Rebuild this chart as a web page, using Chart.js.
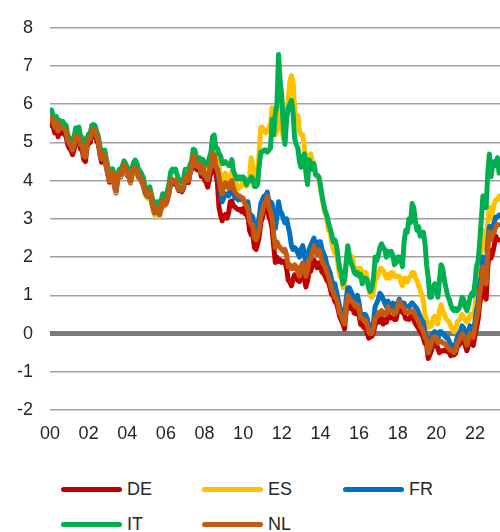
<!DOCTYPE html>
<html>
<head>
<meta charset="utf-8">
<script src="https://cdn.jsdelivr.net/npm/chart.js@4/dist/chart.umd.min.js"></script>
<style>
  html, body { margin: 0; padding: 0; background: #fff; }
  #wrap { position: relative; width: 500px; height: 532px; font-family: 'Liberation Sans', Arial, sans-serif; }
  #c { position: absolute; left: 0; top: 0; }
  .lg { position: absolute; height: 22px; display: flex; align-items: center; font-size: 18px; color: #262626; }
  .sw { width: 61px; height: 5px; border-radius: 3px; margin-right: 5px; }
</style>
</head>
<body>
<div id="wrap">
  <canvas id="c" width="500" height="460"></canvas>
  <div class="lg" style="left:61px; top:478px;"><span class="sw" style="background:#C00000"></span>DE</div>
  <div class="lg" style="left:202px; top:478px;"><span class="sw" style="background:#FFC000"></span>ES</div>
  <div class="lg" style="left:343px; top:478px;"><span class="sw" style="background:#0070C0"></span>FR</div>
  <div class="lg" style="left:61px; top:513px;"><span class="sw" style="background:#00B050"></span>IT</div>
  <div class="lg" style="left:202px; top:513px;"><span class="sw" style="background:#C55A11"></span>NL</div>
</div>
<script>
// Monthly 10-year government bond yields (%), Jan 2000 onward
const startYear = 2000;
const yTicks = [-2, -1, 0, 1, 2, 3, 4, 5, 6, 7, 8];
const xTickYears = [2000, 2002, 2004, 2006, 2008, 2010, 2012, 2014, 2016, 2018, 2020, 2022];

const DE = [
 5.45,5.50,5.40,5.25,5.40,5.15,5.28,5.24,5.28,5.22,5.15,4.95,
 4.85,4.80,4.68,4.82,5.06,5.00,5.02,4.82,4.80,4.55,4.50,4.87,
 5.00,5.00,5.22,5.25,5.22,5.05,4.95,4.70,4.48,4.57,4.58,4.35,
 4.15,3.96,4.09,4.15,3.85,3.68,4.02,4.14,4.10,4.20,4.35,4.27,
 4.14,4.10,3.94,4.15,4.26,4.28,4.22,4.08,4.04,3.96,3.86,3.67,
 3.58,3.55,3.68,3.46,3.28,3.12,3.22,3.22,3.08,3.25,3.44,3.34,
 3.38,3.50,3.68,3.94,3.98,3.92,3.96,3.84,3.74,3.78,3.71,3.80,
 4.05,4.05,3.95,4.18,4.31,4.58,4.52,4.29,4.28,4.34,4.11,4.28,
 4.02,3.96,3.83,4.03,4.21,4.52,4.50,4.18,3.95,3.30,3.10,2.95,
 3.05,3.12,3.02,3.16,3.45,3.47,3.33,3.31,3.27,3.24,3.25,3.19,
 3.27,3.14,3.11,3.05,2.70,2.58,2.62,2.25,2.20,2.35,2.54,2.91,
 3.04,3.22,3.20,3.40,3.06,2.95,2.74,2.28,1.86,2.00,1.89,1.93,
 1.86,1.89,1.86,1.71,1.40,1.35,1.25,1.42,1.54,1.52,1.39,1.36,
 1.61,1.61,1.43,1.22,1.38,1.62,1.63,1.80,1.93,1.80,1.72,1.85,
 1.77,1.61,1.57,1.50,1.39,1.35,1.20,1.02,0.99,0.84,0.79,0.64,
 0.45,0.35,0.26,0.12,0.58,0.84,0.76,0.65,0.68,0.54,0.52,0.59,
 0.50,0.24,0.22,0.16,0.15,0.02,-0.12,-0.09,-0.07,0.04,0.23,0.31,
 0.35,0.30,0.41,0.25,0.36,0.29,0.52,0.41,0.41,0.44,0.37,0.37,
 0.58,0.71,0.59,0.55,0.52,0.39,0.38,0.37,0.44,0.45,0.36,0.26,
 0.20,0.13,0.05,0.00,-0.11,-0.26,-0.30,-0.65,-0.56,-0.44,-0.30,-0.27,
 -0.26,-0.40,-0.50,-0.45,-0.46,-0.43,-0.46,-0.46,-0.49,-0.58,-0.55,-0.56,
 -0.52,-0.35,-0.30,-0.25,-0.14,-0.20,-0.31,-0.45,-0.30,-0.15,-0.25,-0.31,
 -0.07,0.16,0.36,0.79,0.98,1.44,1.04,0.90,1.74,2.18,1.97,2.10,
 2.30,2.55,2.45,2.45
];
const ES = [
 5.65,5.70,5.58,5.42,5.57,5.35,5.47,5.42,5.46,5.40,5.35,5.10,
 5.02,4.97,4.86,5.02,5.26,5.24,5.25,5.01,5.00,4.75,4.66,5.00,
 5.10,5.12,5.35,5.38,5.35,5.17,5.07,4.81,4.57,4.64,4.66,4.42,
 4.22,4.01,4.12,4.19,3.88,3.70,4.05,4.16,4.13,4.24,4.39,4.30,
 4.18,4.14,3.96,4.17,4.30,4.34,4.26,4.10,4.05,3.97,3.88,3.66,
 3.58,3.54,3.69,3.46,3.28,3.10,3.20,3.20,3.05,3.26,3.45,3.35,
 3.40,3.52,3.71,3.98,4.03,3.97,4.01,3.89,3.77,3.81,3.75,3.84,
 4.11,4.11,4.02,4.25,4.38,4.67,4.63,4.41,4.40,4.45,4.24,4.42,
 4.20,4.22,4.18,4.40,4.55,4.85,4.82,4.58,4.55,4.40,4.00,3.95,
 4.15,4.20,4.10,4.05,4.10,4.25,4.05,3.95,3.90,3.80,3.85,3.85,
 4.00,3.95,3.85,3.90,4.10,4.60,4.40,4.10,4.10,4.15,4.80,5.40,
 5.40,5.30,5.25,5.30,5.35,5.50,5.90,5.20,5.20,5.30,6.20,5.50,
 5.40,5.10,5.20,5.80,6.10,6.60,6.75,6.60,5.90,5.60,5.70,5.30,
 5.20,5.20,4.90,4.60,4.30,4.60,4.70,4.50,4.40,4.20,4.10,4.10,
 3.80,3.60,3.30,3.15,3.00,2.70,2.70,2.40,2.20,2.10,2.10,1.80,
 1.50,1.50,1.20,1.30,1.80,2.20,2.10,2.00,2.00,1.70,1.70,1.70,
 1.70,1.70,1.50,1.50,1.60,1.50,1.20,1.00,0.95,1.10,1.40,1.45,
 1.55,1.70,1.70,1.65,1.55,1.45,1.55,1.45,1.60,1.60,1.50,1.50,
 1.50,1.50,1.35,1.25,1.45,1.45,1.35,1.45,1.50,1.60,1.60,1.45,
 1.40,1.25,1.15,1.00,0.85,0.50,0.35,0.15,0.20,0.20,0.40,0.45,
 0.40,0.25,0.60,0.75,0.60,0.50,0.40,0.35,0.30,0.20,0.10,0.05,
 0.10,0.30,0.35,0.40,0.50,0.45,0.35,0.30,0.35,0.50,0.45,0.45,
 0.65,1.20,1.30,1.75,2.20,2.70,2.20,2.25,2.90,3.30,3.00,3.20,
 3.40,3.50,3.50,3.60
];
const FR = [
 5.62,5.66,5.55,5.40,5.55,5.30,5.43,5.38,5.41,5.35,5.29,5.06,
 4.97,4.93,4.81,4.96,5.20,5.15,5.16,4.95,4.93,4.67,4.62,4.98,
 5.10,5.10,5.33,5.36,5.33,5.16,5.06,4.80,4.57,4.65,4.67,4.44,
 4.24,4.03,4.15,4.22,3.91,3.74,4.08,4.20,4.17,4.27,4.42,4.33,
 4.21,4.17,3.99,4.21,4.33,4.36,4.28,4.12,4.08,4.00,3.90,3.71,
 3.62,3.59,3.72,3.50,3.32,3.16,3.26,3.26,3.12,3.30,3.48,3.37,
 3.42,3.54,3.72,3.98,4.02,3.96,4.00,3.88,3.77,3.81,3.75,3.84,
 4.10,4.09,4.00,4.24,4.37,4.66,4.60,4.38,4.37,4.42,4.20,4.38,
 4.12,4.09,4.02,4.22,4.40,4.72,4.67,4.37,4.30,4.00,3.70,3.45,
 3.55,3.65,3.65,3.60,3.75,3.80,3.65,3.55,3.55,3.50,3.55,3.50,
 3.50,3.45,3.45,3.45,3.10,3.10,3.05,2.75,2.70,2.80,3.05,3.40,
 3.50,3.60,3.60,3.70,3.45,3.45,3.40,3.10,2.75,3.05,3.45,3.20,
 3.15,3.00,2.90,3.00,2.80,2.60,2.30,2.20,2.25,2.20,2.10,2.00,
 2.20,2.30,2.10,1.80,1.90,2.20,2.30,2.40,2.50,2.30,2.20,2.40,
 2.40,2.20,2.10,2.00,1.80,1.70,1.60,1.40,1.30,1.30,1.10,0.90,
 0.70,0.60,0.50,0.40,0.90,1.20,1.20,1.10,1.00,0.90,0.90,1.00,
 0.80,0.50,0.50,0.50,0.50,0.40,0.20,0.15,0.20,0.30,0.70,0.80,
 0.90,1.05,1.00,0.90,0.80,0.70,0.85,0.70,0.70,0.80,0.70,0.70,
 0.80,0.90,0.80,0.80,0.80,0.70,0.70,0.70,0.75,0.80,0.75,0.70,
 0.65,0.55,0.45,0.35,0.30,0.00,-0.10,-0.38,-0.25,-0.10,0.00,0.05,
 0.00,-0.15,0.05,0.05,0.00,-0.05,-0.10,-0.10,-0.20,-0.30,-0.30,-0.35,
 -0.30,-0.10,-0.05,0.05,0.20,0.15,0.00,-0.05,0.05,0.20,0.10,0.05,
 0.30,0.60,0.80,1.30,1.50,2.00,1.60,1.55,2.40,2.80,2.60,2.80,
 2.90,3.05,3.05,3.10
];
const IT = [
 5.85,5.85,5.68,5.55,5.68,5.45,5.58,5.50,5.55,5.48,5.45,5.20,
 5.12,5.08,4.97,5.15,5.38,5.36,5.40,5.16,5.13,4.90,4.78,5.12,
 5.22,5.24,5.45,5.47,5.44,5.28,5.17,4.92,4.70,4.77,4.80,4.57,
 4.37,4.15,4.24,4.31,4.00,3.85,4.18,4.30,4.29,4.39,4.52,4.45,
 4.34,4.30,4.14,4.34,4.48,4.54,4.46,4.30,4.25,4.17,4.07,3.86,
 3.76,3.70,3.84,3.64,3.48,3.34,3.44,3.45,3.30,3.47,3.66,3.55,
 3.60,3.75,3.94,4.23,4.30,4.25,4.30,4.15,4.00,4.03,3.95,4.05,
 4.30,4.30,4.21,4.42,4.52,4.82,4.80,4.60,4.60,4.60,4.45,4.56,
 4.45,4.40,4.45,4.60,4.75,5.15,5.20,4.85,4.85,4.70,4.65,4.45,
 4.45,4.50,4.45,4.40,4.40,4.55,4.25,4.15,4.05,4.05,4.10,4.05,
 4.10,4.05,3.90,4.00,4.00,4.10,4.05,3.85,3.85,3.90,4.40,4.75,
 4.75,4.80,4.80,4.75,4.80,4.85,5.60,5.20,5.75,6.00,7.30,6.60,
 6.20,5.40,4.95,5.60,5.90,6.00,6.10,5.80,5.10,4.95,4.85,4.50,
 4.35,4.60,4.70,4.20,3.90,4.55,4.45,4.30,4.45,4.15,4.15,4.10,
 3.90,3.60,3.40,3.20,3.10,2.90,2.75,2.60,2.40,2.45,2.30,2.00,
 1.70,1.60,1.30,1.40,1.85,2.30,2.00,1.85,1.75,1.60,1.55,1.60,
 1.50,1.55,1.30,1.45,1.45,1.40,1.20,1.10,1.20,1.45,2.00,1.90,
 2.05,2.25,2.35,2.25,2.20,2.00,2.15,2.05,2.15,2.05,1.80,1.85,
 2.00,2.00,1.90,1.75,2.40,2.70,2.65,3.00,2.90,3.40,3.30,2.95,
 2.70,2.80,2.55,2.65,2.65,2.35,1.80,1.45,0.95,0.95,1.20,1.30,
 1.25,0.95,1.40,1.80,1.70,1.40,1.20,1.00,0.90,0.75,0.65,0.60,
 0.65,0.60,0.65,0.75,0.95,0.90,0.70,0.60,0.75,0.95,1.05,1.00,
 1.30,1.75,1.90,2.40,3.00,3.60,3.30,3.30,4.20,4.70,4.10,4.40,
 4.50,4.40,4.60,4.20
];
const NL = [
 5.60,5.65,5.55,5.40,5.55,5.30,5.42,5.38,5.40,5.35,5.28,5.05,
 4.97,4.92,4.80,4.95,5.18,5.13,5.14,4.94,4.92,4.66,4.62,4.98,
 5.10,5.10,5.32,5.35,5.32,5.15,5.05,4.80,4.58,4.66,4.67,4.44,
 4.24,4.04,4.16,4.22,3.92,3.75,4.09,4.20,4.17,4.27,4.42,4.34,
 4.21,4.17,4.00,4.21,4.33,4.35,4.28,4.13,4.09,4.01,3.91,3.72,
 3.63,3.60,3.73,3.51,3.33,3.17,3.27,3.27,3.13,3.31,3.49,3.38,
 3.43,3.55,3.73,3.99,4.03,3.97,4.01,3.89,3.78,3.82,3.76,3.85,
 4.10,4.10,4.00,4.24,4.37,4.65,4.60,4.38,4.37,4.42,4.21,4.38,
 4.14,4.10,4.03,4.23,4.39,4.70,4.66,4.38,4.30,4.10,3.80,3.65,
 3.90,3.95,3.85,3.80,3.95,4.00,3.80,3.70,3.65,3.60,3.60,3.55,
 3.55,3.40,3.35,3.25,2.95,2.85,2.85,2.50,2.45,2.55,2.75,3.05,
 3.20,3.40,3.40,3.60,3.30,3.20,3.00,2.60,2.25,2.40,2.30,2.25,
 2.20,2.15,2.20,2.05,1.75,1.80,1.70,1.70,1.80,1.75,1.60,1.50,
 1.75,1.85,1.70,1.50,1.65,1.95,1.95,2.15,2.30,2.15,2.05,2.20,
 2.10,1.90,1.80,1.75,1.60,1.50,1.35,1.15,1.10,0.95,0.90,0.75,
 0.55,0.45,0.35,0.25,0.70,1.00,0.95,0.85,0.85,0.75,0.70,0.75,
 0.65,0.40,0.40,0.35,0.35,0.25,0.05,0.00,0.00,0.15,0.40,0.45,
 0.55,0.50,0.60,0.50,0.55,0.50,0.70,0.60,0.60,0.60,0.50,0.55,
 0.70,0.85,0.75,0.70,0.65,0.55,0.55,0.55,0.60,0.60,0.55,0.45,
 0.40,0.30,0.20,0.15,0.05,-0.10,-0.15,-0.50,-0.40,-0.25,-0.10,-0.08,
 -0.10,-0.25,-0.20,-0.20,-0.25,-0.25,-0.30,-0.35,-0.40,-0.45,-0.45,-0.50,
 -0.45,-0.25,-0.20,-0.10,0.00,-0.05,-0.15,-0.30,-0.15,0.00,-0.05,-0.10,
 0.15,0.40,0.60,1.05,1.30,1.75,1.35,1.30,2.15,2.65,2.45,2.60,
 2.65,2.80,2.85,2.85
];

const toPoints = arr => arr.map((v, i) => ({ x: startYear + i / 12, y: v }));
const mk = (label, data, color, order) => ({
  label, data: toPoints(data), borderColor: color, backgroundColor: color,
  borderWidth: 5, pointRadius: 0, tension: 0, order,
  borderCapStyle: 'round', borderJoinStyle: 'round'
});

Chart.defaults.font.family = "'Liberation Sans', Arial, sans-serif";
Chart.defaults.color = '#262626';

new Chart(document.getElementById('c'), {
  type: 'line',
  data: {
    datasets: [
      mk('DE', DE, '#C00000', 5),
      mk('ES', ES, '#FFC000', 4),
      mk('FR', FR, '#0070C0', 3),
      mk('IT', IT, '#00B050', 2),
      mk('NL', NL, '#C55A11', 1)
    ]
  },
  options: {
    responsive: false,
    devicePixelRatio: 1,
    animation: false,
    layout: { padding: { top: 25, right: 0, bottom: 0, left: 0 } },
    plugins: { legend: { display: false }, tooltip: { enabled: false } },
    scales: {
      x: {
        type: 'linear',
        min: 2000,
        max: 2023.3,
        afterFit: s => { s.height = 50; },
        afterBuildTicks: s => { s.ticks = xTickYears.map(v => ({ value: v })); },
        ticks: {
          autoSkip: false, maxRotation: 0, padding: 13,
          font: { size: 18 },
          callback: v => String(v % 100).padStart(2, '0')
        },
        grid: { display: false, drawTicks: false },
        border: { display: false }
      },
      y: {
        min: -2, max: 8,
        afterFit: s => { s.width = 50; },
        afterBuildTicks: s => { s.ticks = yTicks.map(v => ({ value: v })); },
        ticks: { padding: 17, font: { size: 18 }, callback: v => String(v) },
        grid: {
          drawTicks: false,
          color: c => c.tick && c.tick.value === 0 ? '#7a7a7a' : '#a0a0a0',
          lineWidth: c => c.tick && c.tick.value === 0 ? 5 : 1.6
        },
        border: { display: false }
      }
    }
  }
});
</script>
</body>
</html>
